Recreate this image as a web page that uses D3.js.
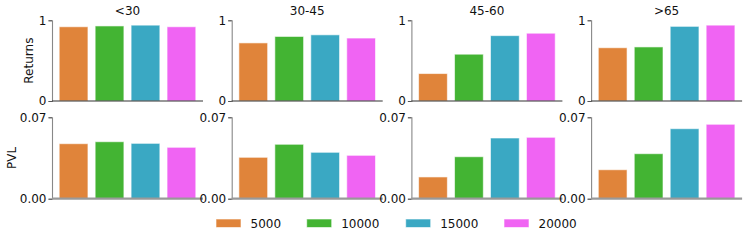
<!DOCTYPE html>
<html>
<head>
<meta charset="utf-8">
<script src="https://cdn.jsdelivr.net/npm/d3@7"></script>
<style>
  html, body { margin: 0; padding: 0; background: #fff; }
  text { font-family: "DejaVu Sans", sans-serif; fill: #111; }
</style>
</head>
<body>
<svg id="chart" width="748" height="241"></svg>
<script>
const groups = ["<30", "30-45", "45-60", ">65"];
const series = ["5000", "10000", "15000", "20000"];
const colors = ["#e0843a", "#43b433", "#3aa8c3", "#f064f3"];
const returnsValues = [
  [0.92, 0.93, 0.94, 0.92],
  [0.72, 0.80, 0.82, 0.78],
  [0.34, 0.58, 0.81, 0.84],
  [0.66, 0.67, 0.925, 0.94]
];
const pvlValues = [
  [0.0473, 0.0490, 0.0476, 0.0442],
  [0.0356, 0.0468, 0.0399, 0.0373],
  [0.0187, 0.0361, 0.0522, 0.0528],
  [0.0249, 0.0387, 0.0602, 0.0640]
];
const returnsTicks = [0, 1];
const pvlTicks = [0, 0.07];

const svg = d3.select("#chart");
const panelLeft0 = 52, panelStep = 179.7, panelW = 151;
const rows = [
  { values: returnsValues, domain: [0, 1], ticks: returnsTicks, fmt: d3.format("d"), top: 20.3, bottom: 101, label: "Returns", labelX: 29, zeroLine: false },
  { values: pvlValues, domain: [0, 0.07], ticks: pvlTicks, fmt: d3.format(".2f"), top: 117.3, bottom: 198.7, label: "PVL", labelX: 12, zeroLine: true }
];

rows.forEach((row, ri) => {
  const y = d3.scaleLinear().domain(row.domain).range([row.bottom, row.top]);
  groups.forEach((g, gi) => {
    const left = panelLeft0 + gi * panelStep;
    const x = d3.scaleLinear().domain([-0.6, 3.6]).range([left, left + panelW]);
    const p = svg.append("g");
    const bw = x(0.4) - x(-0.4);
    p.selectAll("rect").data(row.values[gi]).enter().append("rect")
      .attr("x", (d, i) => x(i) - bw / 2)
      .attr("y", d => y(d))
      .attr("width", bw)
      .attr("height", d => y(0) - y(d))
      .attr("fill", (d, i) => colors[i])
      .attr("stroke", "#fff")
      .attr("stroke-opacity", 0.6)
      .attr("stroke-width", 1);

    // left axis
    const ax = p.append("g").attr("transform", `translate(${left},0)`)
      .call(d3.axisLeft(y).tickValues(row.ticks).tickFormat(row.fmt).tickSize(3.5).tickPadding(2));
    ax.select(".domain").attr("stroke", "#888").attr("stroke-width", 1.1);
    ax.selectAll(".tick line").attr("stroke", "#555");
    ax.selectAll(".tick text").style("font-size", "12px").style("font-family", "DejaVu Sans, sans-serif").attr("fill", "#111");

    // bottom line
    if (row.zeroLine) {
      p.append("line").attr("x1", left).attr("x2", left + panelW)
        .attr("y1", y(0)).attr("y2", y(0))
        .attr("stroke", "#999").attr("stroke-width", 2.2);
    } else {
      p.append("line").attr("x1", left).attr("x2", left + panelW)
        .attr("y1", y(0)).attr("y2", y(0))
        .attr("stroke", "#333").attr("stroke-width", 1.1);
    }

    if (ri === 0) {
      p.append("text").attr("x", left + panelW / 2).attr("y", 15)
        .attr("text-anchor", "middle").style("font-size", "12px").text(g);
    }
  });
  svg.append("text")
    .attr("transform", `translate(${row.labelX},${(row.top + row.bottom) / 2}) rotate(-90)`)
    .attr("text-anchor", "middle").attr("dominant-baseline", "central")
    .style("font-size", "12px").text(row.label);
});

// legend
const legendX = [216, 306.7, 405.7, 504];
const lg = svg.append("g");
series.forEach((s, i) => {
  lg.append("rect").attr("x", legendX[i]).attr("y", 219).attr("width", 25).attr("height", 8.5)
    .attr("fill", colors[i]).attr("stroke", "#fff").attr("stroke-opacity", 0.6);
  lg.append("text").attr("x", legendX[i] + 34.5).attr("y", 227.5)
    .style("font-size", "12px").text(s);
});
</script>
</body>
</html>
